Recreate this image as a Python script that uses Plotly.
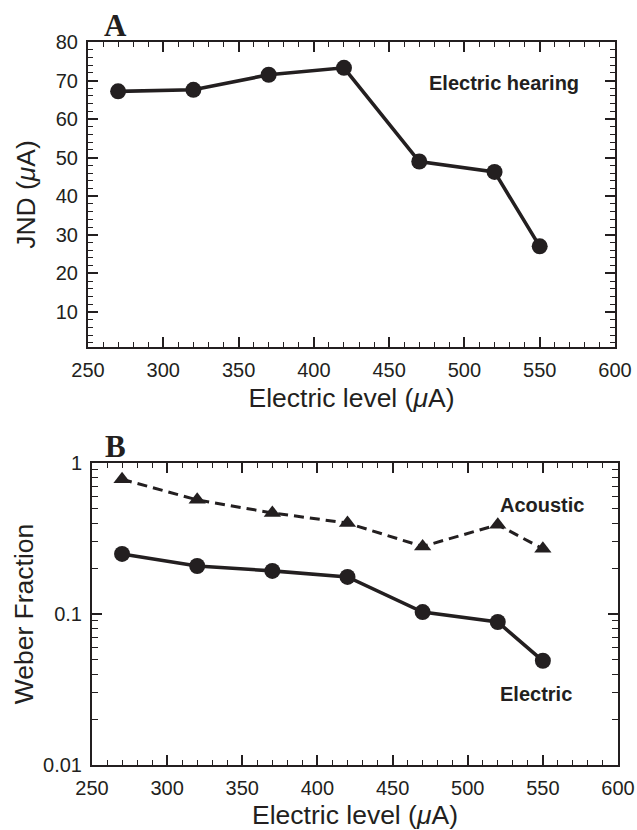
import plotly.graph_objects as go

levels = [270, 320, 370, 420, 470, 520, 550]
jnd_electric = [67.2, 67.6, 71.5, 73.3, 49.0, 46.3, 27.0]
weber_acoustic = [0.78, 0.57, 0.467, 0.40, 0.28, 0.39, 0.27]
weber_electric = [0.25, 0.208, 0.193, 0.176, 0.103, 0.0885, 0.049]
x_ticks = [250, 300, 350, 400, 450, 500, 550, 600]
ya_ticks = [10, 20, 30, 40, 50, 60, 70, 80]
yb_ticks = [0.01, 0.1, 1]
yb_labels = ["0.01", "0.1", "1"]

INK = "#231f20"
FONT = "Liberation Sans, Arial, sans-serif"
SERIF = "Liberation Serif, Times New Roman, serif"
W, H = 637, 830

def px_x(p):
    return p / W

def px_y(p):
    return 1 - p / H

fig = go.Figure()
fig.add_trace(go.Scatter(x=levels, y=jnd_electric, mode="lines+markers",
                         line=dict(color=INK, width=3.6),
                         marker=dict(symbol="circle", size=16, color=INK),
                         xaxis="x", yaxis="y", showlegend=False))
fig.add_trace(go.Scatter(x=levels, y=weber_acoustic, mode="lines+markers",
                         line=dict(color=INK, width=3, dash="10px,6px"),
                         marker=dict(symbol="triangle-up", size=15, color=INK),
                         xaxis="x2", yaxis="y2", showlegend=False))
fig.add_trace(go.Scatter(x=levels, y=weber_electric, mode="lines+markers",
                         line=dict(color=INK, width=3.6),
                         marker=dict(symbol="circle", size=16, color=INK),
                         xaxis="x2", yaxis="y2", showlegend=False))

axis_common = dict(showline=True, linecolor=INK, linewidth=2, mirror="ticks",
                   ticks="inside", ticklen=10, tickwidth=1.6, tickcolor=INK,
                   showgrid=False, zeroline=False, automargin=False,
                   tickfont=dict(family=FONT, size=20, color=INK))
title_font = dict(family=FONT, size=26.5, color=INK)
minor_x = dict(dtick=10, tick0=250, ticks="inside", ticklen=5, tickwidth=1.3, tickcolor=INK)

fig.update_layout(
    width=W, height=H,
    margin=dict(l=0, r=0, t=0, b=0),
    paper_bgcolor="white", plot_bgcolor="white",
    xaxis=dict(domain=[px_x(88), px_x(615)], range=[250, 600], anchor="y",
               tickvals=x_ticks, minor=minor_x, ticklabelstandoff=4,
               title=dict(text="Electric level (<i>μ</i>A)", font=title_font, standoff=8),
               **axis_common),
    yaxis=dict(domain=[px_y(347), px_y(42)], range=[0.9, 80], anchor="x",
               tickvals=ya_ticks, ticklabelstandoff=4,
               minor=dict(dtick=2, tick0=0, ticks="inside", ticklen=5, tickwidth=1.3, tickcolor=INK),
               title=dict(text="JND (<i>μ</i>A)", font=title_font, standoff=12),
               **axis_common),
    xaxis2=dict(domain=[px_x(92), px_x(618)], range=[250, 600], anchor="y2",
                tickvals=x_ticks, minor=minor_x, ticklabelstandoff=4,
                title=dict(text="Electric level (<i>μ</i>A)", font=title_font, standoff=13),
                **axis_common),
    yaxis2=dict(domain=[px_y(765), px_y(463)], type="log", range=[-2, 0], anchor="x2",
                tickvals=yb_ticks, ticktext=yb_labels, ticklabelstandoff=4,
                minor=dict(dtick="D1", ticks="inside", ticklen=6, tickwidth=1.3, tickcolor=INK),
                title=dict(text="Weber Fraction", font=title_font, standoff=2),
                **axis_common),
    annotations=[
        dict(text="<b>A</b>", x=px_x(115), y=px_y(25), xref="paper", yref="paper",
             showarrow=False, xanchor="center", yanchor="middle",
             font=dict(family=SERIF, size=31, color=INK)),
        dict(text="<b>B</b>", x=px_x(115), y=px_y(446), xref="paper", yref="paper",
             showarrow=False, xanchor="center", yanchor="middle",
             font=dict(family=SERIF, size=31, color=INK)),
        dict(text="<b>Electric hearing</b>", x=px_x(504), y=px_y(83), xref="paper", yref="paper",
             showarrow=False, xanchor="center", yanchor="middle",
             font=dict(family=FONT, size=20, color=INK)),
        dict(text="<b>Acoustic</b>", x=px_x(542), y=px_y(505), xref="paper", yref="paper",
             showarrow=False, xanchor="center", yanchor="middle",
             font=dict(family=FONT, size=20, color=INK)),
        dict(text="<b>Electric</b>", x=px_x(536), y=px_y(694), xref="paper", yref="paper",
             showarrow=False, xanchor="center", yanchor="middle",
             font=dict(family=FONT, size=20, color=INK)),
    ],
)

fig.write_html("out.html")
